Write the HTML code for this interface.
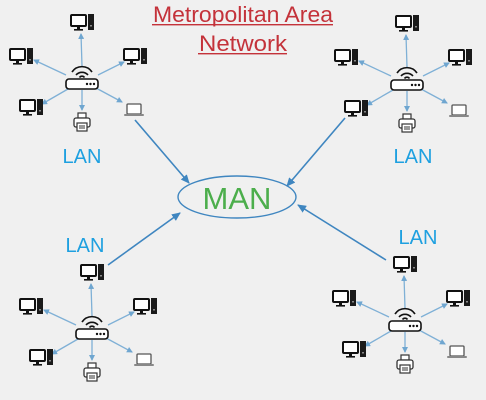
<!DOCTYPE html>
<html><head><style>
html,body{margin:0;padding:0;background:#f0f0f0;}
svg{display:block;}
</style></head><body>
<svg width="486" height="400" viewBox="0 0 486 400" xmlns="http://www.w3.org/2000/svg">
<defs>
<marker id="a" markerWidth="6" markerHeight="6" refX="5" refY="3" orient="auto" markerUnits="userSpaceOnUse"><path d="M0,0 L6,3 L0,6 z" fill="#6fa6d0"/></marker>
<marker id="b" markerWidth="9" markerHeight="8" refX="8" refY="4" orient="auto" markerUnits="userSpaceOnUse"><path d="M0,0 L9,4 L0,8 z" fill="#3f86c0"/></marker>
<g id="pc">
 <rect x="-10" y="-7" width="15" height="11" rx="1" fill="#fff" stroke="#111" stroke-width="2"/>
 <rect x="-4" y="4" width="3" height="3" fill="#111"/><rect x="-7" y="7" width="9" height="1.6" fill="#111"/>
 <rect x="7" y="-8" width="6" height="16" fill="#1a1a1a"/><rect x="9" y="3" width="2" height="1.5" fill="#888"/>
</g>
<g id="lt">
 <rect x="-7" y="-6" width="14" height="10" rx="1" fill="#fff" stroke="#555" stroke-width="1.3"/>
 <rect x="-10" y="4" width="20" height="2" rx="1" fill="#888"/>
</g>
<g id="pr">
 <rect x="-4" y="-9" width="8" height="5" fill="#fff" stroke="#333" stroke-width="1.2"/>
 <rect x="-8" y="-4" width="16" height="9" rx="2" fill="#fff" stroke="#333" stroke-width="1.3"/>
 <rect x="-5" y="1" width="10" height="8" fill="#fff" stroke="#333" stroke-width="1.2"/>
 <line x1="-3" y1="4" x2="3" y2="4" stroke="#333"/><line x1="-3" y1="6" x2="3" y2="6" stroke="#333"/>
</g>
<g id="rt">
 <path d="M-10,-8 A12,12 0 0 1 10,-8" fill="none" stroke="#111" stroke-width="1.6"/>
 <path d="M-6,-5 A8,8 0 0 1 6,-5" fill="none" stroke="#111" stroke-width="1.6"/>
 <path d="M-2.5,-2.5 A3,3 0 0 1 2.5,-2.5" fill="none" stroke="#111" stroke-width="1.6"/>
 <rect x="-16" y="-1" width="32" height="10" rx="3" fill="#fff" stroke="#111" stroke-width="1.6"/>
 <circle cx="5" cy="4" r="1.2" fill="#111"/><circle cx="8.5" cy="4" r="1.2" fill="#111"/><circle cx="12" cy="4" r="1.2" fill="#111"/>
</g>
<g id="lan">
 <g stroke="#7fb0d6" stroke-width="1.3" marker-end="url(#a)">
  <line x1="0" y1="-14" x2="-1" y2="-46"/>
  <line x1="-16" y1="-5" x2="-48" y2="-20"/>
  <line x1="16" y1="-5" x2="42" y2="-18"/>
  <line x1="-14" y1="9" x2="-40" y2="24"/>
  <line x1="0" y1="10" x2="0" y2="30"/>
  <line x1="14" y1="8" x2="40" y2="22"/>
 </g>
 <use href="#rt"/>
 <use href="#pc" x="-1" y="-58"/>
 <use href="#pc" x="-62" y="-24"/>
 <use href="#pc" x="52" y="-24"/>
 <use href="#pc" x="-52" y="27"/>
 <use href="#pr" x="0" y="42"/>
 <use href="#lt" x="52" y="30"/>
</g>
</defs>

<g font-family="Liberation Sans, sans-serif" font-size="22" fill="#c4323a" text-anchor="middle">
 <text x="243" y="22" textLength="180" lengthAdjust="spacingAndGlyphs">Metropolitan Area</text>
 <text x="243" y="51" textLength="88" lengthAdjust="spacingAndGlyphs">Network</text>
</g>
<rect x="152" y="24" width="181" height="1.4" fill="#c4323a"/>
<rect x="198" y="53" width="89" height="1.4" fill="#c4323a"/>

<use href="#lan" x="82" y="80"/>
<use href="#lan" x="407" y="81"/>
<use href="#lan" x="92" y="330"/>
<use href="#lan" x="405" y="322"/>

<g font-family="Liberation Sans, sans-serif" font-size="20" fill="#1ea0e0" text-anchor="middle">
 <text x="82" y="163">LAN</text>
 <text x="413" y="163">LAN</text>
 <text x="85" y="252">LAN</text>
 <text x="418" y="244">LAN</text>
</g>

<g stroke="#3f86c0" stroke-width="1.6" marker-end="url(#b)">
 <line x1="135" y1="120" x2="189" y2="183"/>
 <line x1="345" y1="118" x2="287" y2="186"/>
 <line x1="108" y1="265" x2="180" y2="213"/>
 <line x1="386" y1="260" x2="298" y2="205"/>
</g>
<ellipse cx="237" cy="197" rx="59" ry="21" fill="none" stroke="#3f86c0" stroke-width="1.4"/>
<text x="237" y="209" font-family="Liberation Sans, sans-serif" font-size="31" fill="#4cae4c" text-anchor="middle">MAN</text>
</svg>
</body></html>
